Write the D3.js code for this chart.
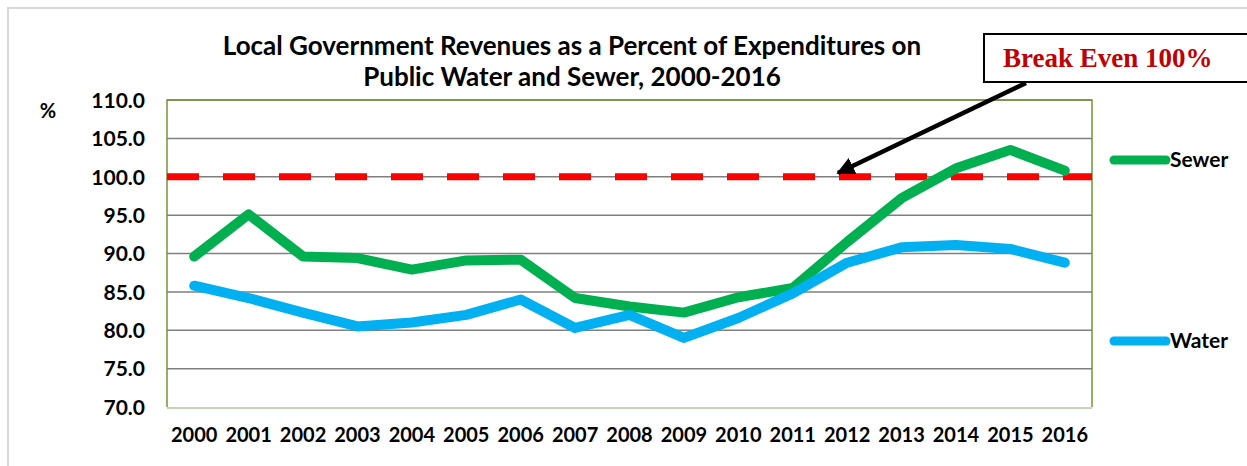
<!DOCTYPE html>
<html>
<head>
<meta charset="utf-8">
<script src="https://cdn.jsdelivr.net/npm/d3@7"></script>
<style>
  body { margin: 0; background: #fff; }
  text { font-family: Lato, "Open Sans", sans-serif; font-weight: bold; fill: #000; }
</style>
</head>
<body>
<svg id="chart" width="1247" height="466"></svg>
<script>
// chart data
var years = ["2000","2001","2002","2003","2004","2005","2006","2007","2008","2009","2010","2011","2012","2013","2014","2015","2016"];
var sewer = [89.6, 95.1, 89.6, 89.4, 87.9, 89.1, 89.2, 84.2, 83.1, 82.3, 84.3, 85.5, 91.5, 97.2, 101.1, 103.5, 100.8];
var water = [85.8, 84.2, 82.3, 80.5, 81.0, 82.0, 84.0, 80.3, 82.0, 79.0, 81.6, 84.8, 88.8, 90.8, 91.1, 90.6, 88.8];
var yTicks = [70, 75, 80, 85, 90, 95, 100, 105, 110];
var breakEven = 100;

var svg = d3.select("#chart");

var plotL = 167, plotR = 1092, plotT = 100, plotB = 407;

var x = d3.scaleBand().domain(years).range([plotL, plotR]);
var y = d3.scaleLinear().domain([70, 110]).range([plotB, plotT]);
var cx = function (d) { return x(d) + x.bandwidth() / 2; };

// outer frame
svg.append("path")
    .attr("d", "M8,466 V8 H1247")
    .attr("fill", "none")
    .attr("stroke", "#d9d9d9")
    .attr("stroke-width", 2);

// gridlines
svg.append("g")
    .selectAll("line")
    .data(yTicks.slice(1))
    .join("line")
    .attr("x1", plotL)
    .attr("x2", plotR)
    .attr("y1", function (d) { return y(d); })
    .attr("y2", function (d) { return y(d); })
    .attr("stroke", "#7f7f7f")
    .attr("stroke-width", 1.5);

// plot border
svg.append("path")
    .attr("d", "M" + plotL + "," + plotB + " V" + plotT + " H" + plotR + " V" + plotB)
    .attr("fill", "none")
    .attr("stroke", "#77933c")
    .attr("stroke-width", 1.5);
svg.append("line")
    .attr("x1", plotL).attr("x2", plotR)
    .attr("y1", plotB + 1).attr("y2", plotB + 1)
    .attr("stroke", "#c4d3b4")
    .attr("stroke-width", 2);

// y axis labels
var yAxis = d3.axisLeft(y).tickValues(yTicks).tickFormat(d3.format(".1f")).tickSize(0).tickPadding(22);
var gy = svg.append("g").attr("transform", "translate(" + plotL + ",0)").call(yAxis);
gy.select(".domain").remove();
gy.selectAll("text").style("font-size", "21px").attr("dy", "0.35em");

svg.append("text")
    .attr("x", 48).attr("y", 118)
    .attr("text-anchor", "middle")
    .style("font-size", "20px")
    .text("%");

// x axis labels
var xAxis = d3.axisBottom(x).tickSize(0).tickPadding(21);
var gx = svg.append("g").attr("transform", "translate(0," + plotB + ")").call(xAxis);
gx.select(".domain").remove();
gx.selectAll("text").style("font-size", "20px");

// break even line
svg.append("line")
    .attr("x1", plotL).attr("x2", plotR)
    .attr("y1", y(breakEven)).attr("y2", y(breakEven))
    .attr("stroke", "#ff0000")
    .attr("stroke-width", 7)
    .attr("stroke-dasharray", "32,24");

// series lines
var line = function (vals) {
    return d3.line()
        .x(function (d, i) { return cx(years[i]); })
        .y(function (d) { return y(d); })(vals);
};
var series = [
    { name: "Sewer", values: sewer, color: "#00b050", ly: 160 },
    { name: "Water", values: water, color: "#00b0f0", ly: 341 }
];
series.forEach(function (s) {
    svg.append("path")
        .attr("d", line(s.values))
        .attr("fill", "none")
        .attr("stroke", s.color)
        .attr("stroke-width", 10)
        .attr("stroke-linecap", "round")
        .attr("stroke-linejoin", "round");

    // legend
    svg.append("line")
        .attr("x1", 1114).attr("x2", 1166)
        .attr("y1", s.ly).attr("y2", s.ly)
        .attr("stroke", s.color)
        .attr("stroke-width", 9)
        .attr("stroke-linecap", "round");
    svg.append("text")
        .attr("x", 1170).attr("y", s.ly + 7)
        .style("font-size", "21px")
        .text(s.name);
});

// title
var title = svg.append("text")
    .attr("x", 572).attr("y", 55)
    .attr("text-anchor", "middle")
    .style("font-size", "26px");
title.append("tspan").attr("x", 572).text("Local Government Revenues as a Percent of Expenditures on");
title.append("tspan").attr("x", 572).attr("dy", 31).text("Public Water and Sewer, 2000-2016");

// break even annotation
svg.append("defs").append("marker")
    .attr("id", "arrowhead")
    .attr("viewBox", "0 0 10 10")
    .attr("refX", 9)
    .attr("refY", 5)
    .attr("markerWidth", 4)
    .attr("markerHeight", 4)
    .attr("orient", "auto")
    .append("path")
    .attr("d", "M0,0 L10,5 L0,10 Z")
    .attr("fill", "#000");

svg.append("line")
    .attr("x1", 1026).attr("y1", 83)
    .attr("x2", 838).attr("y2", 173)
    .attr("stroke", "#000")
    .attr("stroke-width", 4.5)
    .attr("marker-end", "url(#arrowhead)");

svg.append("rect")
    .attr("x", 984).attr("y", 34)
    .attr("width", 280).attr("height", 48)
    .attr("fill", "#fff")
    .attr("stroke", "#000")
    .attr("stroke-width", 2);
svg.append("text")
    .attr("x", 1003).attr("y", 67)
    .style("font-family", "'Liberation Serif', 'Times New Roman', serif")
    .style("font-size", "27px")
    .style("fill", "#c00000")
    .text("Break Even 100%");
</script>
</body>
</html>
